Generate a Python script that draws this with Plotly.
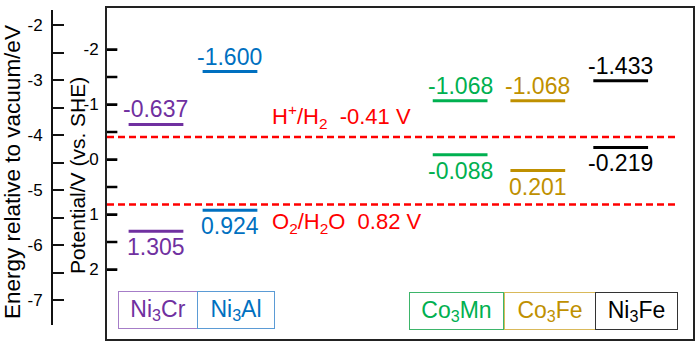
import plotly.graph_objects as go

# ---------------- data ----------------
materials = ["Ni<sub>3</sub>Cr", "Ni<sub>3</sub>Al", "Co<sub>3</sub>Mn", "Co<sub>3</sub>Fe", "Ni<sub>3</sub>Fe"]
upper_levels = [-0.637, -1.600, -1.068, -1.068, -1.433]   # V vs SHE
lower_levels = [1.305, 0.924, -0.088, 0.201, -0.219]      # V vs SHE
ref_names = ["H<sup>+</sup>/H<sub>2</sub>  -0.41 V", "O<sub>2</sub>/H<sub>2</sub>O  0.82 V"]
ref_values = [-0.41, 0.82]
pot_ticks = [-2, -1.5, -1, -0.5, 0, 0.5, 1, 1.5, 2]
pot_ticktext = ["-2", "", "-1", "", "0", "", "1", "", "2"]
vac_ticks = [-2, -2.5, -3, -3.5, -4, -4.5, -5, -5.5, -6, -6.5, -7]
vac_ticktext = ["-2", "", "-3", "", "-4", "", "-5", "", "-6", "", "-7"]
SHE_VS_VAC = -4.44

# ---------------- style / layout constants ----------------
colors = ["#7030A0", "#0070C0", "#00B050", "#BF9000", "#000000"]
box_border = ["#A67DC8", "#5B9BD5", "#3DB56A", "#D9B95A", "#333333"]
x_pos = [0, 1, 4.11, 5.16, 6.28]
half_w = 0.37
x_min, x_max = -0.662, 7.257
tick_len = 0.14
W, H = 700, 347
ML, MR, MT, MB = 0, 7, 8, 8
PW, PH = W - ML - MR, H - MT - MB
FONT = "Liberation Sans, Arial, sans-serif"

def px(xp):
    return (xp - ML) / PW

def py(yp):
    return (H - MB - yp) / PH

# potential range of the plot area (reversed axis)
v_top, v_bot = -2.7545, 3.2636
e_top, e_bot = -1.722, -7.449

fig = go.Figure()

# dummy trace for the vacuum energy axis
fig.add_trace(go.Scatter(x=[x_pos[0]], y=[SHE_VS_VAC], yaxis="y2", mode="markers",
                         marker=dict(opacity=0), showlegend=False, hoverinfo="skip"))

# tick marks of the potential axis, pointing into the plot box
tx, ty = [], []
for t in pot_ticks:
    tx += [x_min, x_min + tick_len, None]
    ty += [t, t, None]
fig.add_trace(go.Scatter(x=tx, y=ty, mode="lines", line=dict(color="#000000", width=2.5),
                         showlegend=False, hoverinfo="skip", cliponaxis=False))

for i, name in enumerate(materials):
    for val in (upper_levels[i], lower_levels[i]):
        fig.add_trace(go.Scatter(
            x=[x_pos[i] - half_w, x_pos[i] + half_w], y=[val, val],
            mode="lines", line=dict(color=colors[i], width=3),
            showlegend=False, hoverinfo="skip"))

# reference dashed lines
for val in ref_values:
    fig.add_trace(go.Scatter(
        x=[x_min, 7.04], y=[val, val], mode="lines",
        line=dict(color="#FF0000", width=2.5, dash="7px,4px"),
        showlegend=False, hoverinfo="skip"))

annotations = []
# value labels
for i in range(len(materials)):
    annotations.append(dict(x=x_pos[i], y=upper_levels[i], xref="x", yref="y",
                            text=f"{upper_levels[i]:.3f}", showarrow=False,
                            yanchor="bottom", yshift=0,
                            font=dict(size=23, color=colors[i], family=FONT)))
    annotations.append(dict(x=x_pos[i], y=lower_levels[i], xref="x", yref="y",
                            text=f"{lower_levels[i]:.3f}", showarrow=False,
                            yanchor="top", yshift=-1,
                            font=dict(size=23, color=colors[i], family=FONT)))

# reference labels
annotations.append(dict(x=2.51, y=ref_values[0], xref="x", yref="y", text=ref_names[0],
                        showarrow=False, yanchor="bottom", yshift=3,
                        font=dict(size=22, color="#FF0000", family=FONT)))
annotations.append(dict(x=2.58, y=ref_values[1], xref="x", yref="y", text=ref_names[1],
                        showarrow=False, yanchor="top", yshift=-2,
                        font=dict(size=22, color="#FF0000", family=FONT)))

# category boxes
box_cx = [157.5, 235.5, 457, 549.5, 636]
box_w = [79, 77, 94, 91, 82]
box_cy = [309.5, 309.5, 310.5, 310.5, 310.5]
box_h = 37
for i, name in enumerate(materials):
    annotations.append(dict(x=px(box_cx[i]), y=py(box_cy[i]), xref="paper", yref="paper",
                            text=name, showarrow=False, xanchor="center", yanchor="middle",
                            width=box_w[i] - 1, height=box_h - 1, borderpad=0,
                            bordercolor=box_border[i], borderwidth=1,
                            font=dict(size=23, color=colors[i], family=FONT)))

# axis titles
annotations.append(dict(x=px(12), y=py(172), xref="paper", yref="paper",
                        text="Energy relative to vacuum/eV", textangle=-90, showarrow=False,
                        xanchor="center", yanchor="middle",
                        font=dict(size=22.5, color="#000", family=FONT)))
annotations.append(dict(x=px(77), y=py(176), xref="paper", yref="paper",
                        text="Potential/V (vs. SHE)", textangle=-90, showarrow=False,
                        xanchor="center", yanchor="middle",
                        font=dict(size=21, color="#000", family=FONT)))

fig.update_layout(
    width=W, height=H,
    margin=dict(l=ML, r=MR, t=MT, b=MB),
    paper_bgcolor="white", plot_bgcolor="rgba(0,0,0,0)",
    showlegend=False,
    annotations=annotations,
    xaxis=dict(domain=[px(107), 1], range=[x_min, x_max], showgrid=False, zeroline=False,
               showticklabels=False, ticks="", showline=True, mirror=True,
               linecolor="#222", linewidth=2),
    yaxis=dict(range=[v_bot, v_top], tickmode="array", tickvals=pot_ticks,
               ticktext=pot_ticktext, ticks="inside", ticklen=10, tickwidth=2,
               tickcolor="#000", ticklabelstandoff=3,
               showgrid=False, zeroline=False,
               tickfont=dict(size=17, color="#000", family=FONT),
               showline=True, mirror=True, linecolor="#222", linewidth=2),
    yaxis2=dict(anchor="free", position=px(52), side="left",
                domain=[py(325), py(10)], range=[e_bot, e_top],
                tickmode="array", tickvals=vac_ticks, ticktext=vac_ticktext,
                ticks="inside", ticklen=11, tickwidth=2, tickcolor="#111",
                ticklabelstandoff=5, showgrid=False, zeroline=False,
                tickfont=dict(size=17, color="#000", family=FONT),
                showline=True, linecolor="#111", linewidth=2),
)

fig.write_html("out.html")
